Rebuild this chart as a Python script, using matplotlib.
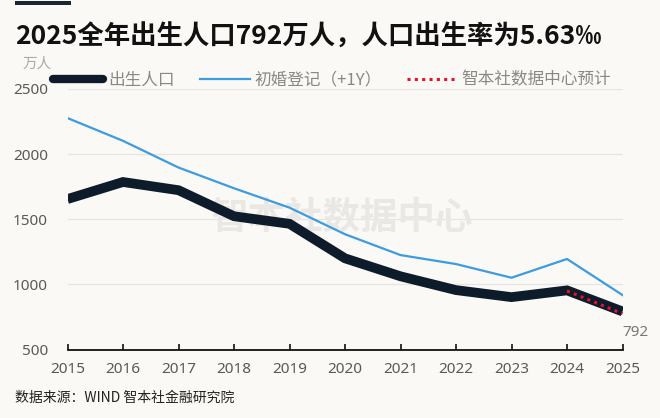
import matplotlib
matplotlib.use("Agg")
import matplotlib.pyplot as plt
from matplotlib.patches import Rectangle

years = [2015, 2016, 2017, 2018, 2019, 2020, 2021, 2022, 2023, 2024, 2025]
births = [1655, 1786, 1723, 1523, 1465, 1200, 1062, 956, 902, 954, 792]
marriages_plus1 = [2277, 2102, 1897, 1738, 1589, 1385, 1225, 1156, 1051, 1195, 918]
forecast_years = [2024, 2025]
forecast_vals = [950, 775]
yticks = [500, 1000, 1500, 2000, 2500]

BG = "#faf9f6"
CJK = ["Noto Sans CJK SC", "DejaVu Sans"]
plt.rcParams["font.family"] = CJK

W, H = 660, 418
fig = plt.figure(figsize=(W / 100, H / 100), dpi=100, facecolor=BG)
ax = fig.add_axes([67.5 / W, 1 - 349.5 / H, (622.5 - 67.5) / W, (349.5 - 89) / H])
ax.set_facecolor(BG)

# top decoration bar
fig.patches.append(Rectangle((15 / W, 1 - 5 / H), 56 / W, 4 / H, transform=fig.transFigure,
                             facecolor="#1a2535", edgecolor="none"))

# watermark (behind the lines)
ax.text(342 / W, 1 - 217 / H, "智本社数据中心", fontsize=27, fontweight="bold",
        color="#e9e8e5", ha="center", va="center", zorder=1, transform=fig.transFigure)

ax.plot(years, births, color="#0d1b2a", lw=7, solid_capstyle="butt", solid_joinstyle="miter",
        label="出生人口", zorder=3)
ax.plot(years, marriages_plus1, color="#3d9be0", lw=1.6, label="初婚登记（+1Y）", zorder=2)
ax.plot(forecast_years, forecast_vals, color="#e8102a", lw=2.2, linestyle=(0, (1, 1.4)),
        label="智本社数据中心预计", zorder=4)

ax.set_xlim(2015, 2025)
ax.set_ylim(500, 2500)
ax.set_xticks(years)
ax.set_yticks(yticks)
ax.grid(axis="y", color="#e6e5e2", lw=0.9, zorder=0)
ax.set_axisbelow(True)
for s in ["top", "right", "left"]:
    ax.spines[s].set_visible(False)
ax.spines["bottom"].set_color("#111111")
ax.spines["bottom"].set_linewidth(1.3)
ax.tick_params(axis="x", direction="in", length=4.5, width=1.2, color="#111111", pad=9,
               labelsize=11, labelcolor="#595959")
ax.tick_params(axis="y", length=0, pad=14, labelsize=11, labelcolor="#595959")
for lab in ax.get_xticklabels() + ax.get_yticklabels():
    lab.set_family(["Noto Sans", "DejaVu Sans"])

ax.annotate(str(births[-1]), xy=(years[-1], births[-1]), xytext=(0, -15),
            textcoords="offset points", fontsize=11, color="#777777",
            family=["Noto Sans", "DejaVu Sans"], ha="left", va="center")

fig.text(15 / W, 1 - 37 / H, "2025全年出生人口792万人，人口出生率为5.63‰", fontsize=19,
         fontweight="bold", color="#111111", ha="left", va="center")
fig.text(23 / W, 1 - 64 / H, "万人", fontsize=10.5, color="#aaaaaa", ha="left", va="center")

leg = fig.legend(loc="center left", bbox_to_anchor=(53 / W, 1 - 80 / H), ncol=3, frameon=False,
                 borderpad=0, borderaxespad=0, handlelength=3.0, handletextpad=0.3,
                 columnspacing=1.5, fontsize=12)
for t in leg.get_texts():
    t.set_color("#888888")
leg.get_lines()[0].set_solid_capstyle("round")
leg.get_lines()[0].set_linewidth(6)

fig.text(15 / W, 1 - 398 / H, "数据来源：WIND 智本社金融研究院", fontsize=10,
         color="#222222", ha="left", va="center")

fig.savefig("out.png", dpi=100, facecolor=BG)
